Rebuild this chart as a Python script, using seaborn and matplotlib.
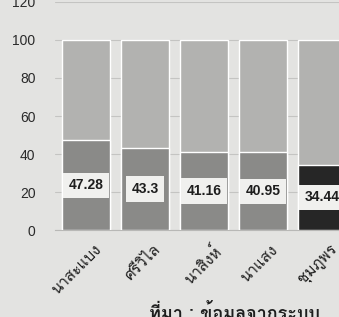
import matplotlib
matplotlib.use('Agg')
import numpy as np
import pandas as pd
import matplotlib.pyplot as plt
import seaborn as sns
from matplotlib import font_manager
from matplotlib.ft2font import FT2Font
from matplotlib.transforms import ScaledTranslation

# data
tambon = ['นาสะแบง', 'ศรีวิไล', 'นาสิงห์', 'นาแสง', 'ชุมภูพร']
percent = [47.28, 43.3, 41.16, 40.95, 34.44]
total = [100, 100, 100, 100, 100]
yticks = [0, 20, 40, 60, 80, 100, 120]
source_note = 'ที่มา : ข้อมูลจากระบบ'


def find_thai_font():
    # pick the first installed font that has Thai glyphs
    for f in font_manager.fontManager.ttflist:
        try:
            if FT2Font(f.fname).get_char_index(ord('ก')):
                return f.name
        except Exception:
            pass
    return 'DejaVu Sans'


sns.set_style('white')
thai_font = find_thai_font()
plt.rcParams['font.family'] = [thai_font, 'Liberation Sans', 'DejaVu Sans']

df = pd.DataFrame({'tambon': tambon, 'percent': percent, 'total': total})

paper = '#e3e3e1'
fig = plt.figure(figsize=(3.39, 3.17), dpi=100, facecolor=paper)
ax = fig.add_axes([0.162, 0.274, 0.838, 0.72])
ax.set_facecolor(paper)

bottom_colors = ['#8a8a88', '#8a8a88', '#8a8a88', '#8a8a88', '#262626']

sns.barplot(data=df, x='tambon', y='total', color='#b2b2b0', width=0.81,
            saturation=1, ax=ax, zorder=2)
sns.barplot(data=df, x='tambon', y='percent', hue='tambon', palette=bottom_colors,
            width=0.81, saturation=1, legend=False, ax=ax, zorder=3)

for i, v in enumerate(percent):
    ax.text(i, v / 2, str(v), ha='center', va='center', fontsize=10,
            fontweight='bold', family='Liberation Sans', color='#1e1e1e', zorder=5,
            bbox=dict(boxstyle='square,pad=0.4', fc='#f0f0ee', ec='none'))

ax.set_ylim(0, 120)
ax.set_xlim(-0.525, 4.29)
ax.set_yticks(yticks)
ax.set_yticklabels([str(t) for t in yticks], fontsize=10, color='#2a2a2a',
                   family='Liberation Sans')
ax.tick_params(axis='y', length=0, pad=14)
ax.tick_params(axis='x', length=0, pad=9)
ax.yaxis.grid(True, color='#c4c4c2', linewidth=0.8, zorder=0)
ax.set_axisbelow(True)

# shift the slanted names a little to the right, like the print
shift = ScaledTranslation(6 / 72, 0, fig.dpi_scale_trans)
for lab in ax.get_xticklabels():
    lab.set_rotation(45)
    lab.set_ha('right')
    lab.set_rotation_mode('anchor')
    lab.set_fontsize(11)
    lab.set_color('#1e1e1e')
    lab.set_transform(lab.get_transform() + shift)

ax.set_xlabel('')
ax.set_ylabel('')
for side in ['top', 'right', 'left']:
    ax.spines[side].set_visible(False)
ax.spines['bottom'].set_color('#b8b8b6')

fig.text(0.44, -0.005, source_note, fontsize=13, fontweight='bold', color='#1e1e1e')

fig.savefig('out.png', dpi=100, facecolor=paper)
